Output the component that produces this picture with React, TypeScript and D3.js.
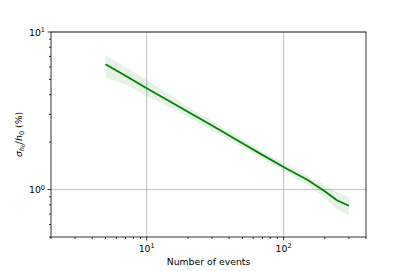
import React, { useEffect, useRef } from 'react';
import * as d3 from 'd3';

// values
const events = [5, 7, 10, 15, 20, 30, 50, 70, 100, 150, 200, 245, 300];
const relError = [6.24, 5.27, 4.40, 3.60, 3.12, 2.55, 1.97, 1.66, 1.39, 1.15, 0.975, 0.855, 0.79];
const relErrorUpper = [7.15, 6.0, 4.95, 3.95, 3.36, 2.73, 2.09, 1.76, 1.48, 1.23, 1.07, 0.96, 0.90];
const relErrorLower = [5.15, 4.62, 3.92, 3.28, 2.90, 2.38, 1.86, 1.57, 1.31, 1.07, 0.88, 0.75, 0.69];

const xMajor = [10, 100];
const xMinor = [2, 3, 4, 5, 6, 7, 8, 9, 20, 30, 40, 50, 60, 70, 80, 90, 200, 300, 400];
const yMajor = [1, 10];
const yMinor = [0.5, 0.6, 0.7, 0.8, 0.9, 2, 3, 4, 5, 6, 7, 8, 9];

const FONT = 'DejaVu Sans';

const ErrorChart = ({ width = 407, height = 271 }) => {
    const wrapper = useRef(null);

    useEffect(() => {
        document.body.style.margin = '0';
        const margin = { top: 32, bottom: 34, left: 51, right: 41 };

        const x = d3.scaleLog()
            .domain([2, 400])
            .range([margin.left, width - margin.right]);

        const y = d3.scaleLog()
            .domain([0.5, 10])
            .range([height - margin.bottom, margin.top]);

        d3.select(wrapper.current).selectAll('svg').remove();

        const svg = d3.select(wrapper.current)
            .append('svg')
            .attr('width', width)
            .attr('height', height)
            .style('display', 'block')
            .style('font-family', FONT);

        svg.append('rect')
            .attr('width', width)
            .attr('height', height)
            .attr('fill', 'white');

        const data = events.map((n, i) => ({ n, v: relError[i], lo: relErrorLower[i], hi: relErrorUpper[i] }));

        // grid
        const grid = svg.append('g').attr('stroke', '#b0b0b0').attr('stroke-width', 0.8);
        xMajor.forEach(t => {
            grid.append('line')
                .attr('x1', x(t)).attr('x2', x(t))
                .attr('y1', y.range()[0]).attr('y2', y.range()[1]);
        });
        yMajor.forEach(t => {
            grid.append('line')
                .attr('x1', x.range()[0]).attr('x2', x.range()[1])
                .attr('y1', y(t)).attr('y2', y(t));
        });

        const area = d3.area()
            .x(d => x(d.n))
            .y0(d => y(d.lo))
            .y1(d => y(d.hi));

        svg.append('path')
            .datum(data)
            .attr('fill', 'green')
            .attr('fill-opacity', 0.1)
            .attr('d', area);

        const line = d3.line()
            .x(d => x(d.n))
            .y(d => y(d.v));

        svg.append('path')
            .datum(data)
            .attr('fill', 'none')
            .attr('stroke', 'green')
            .attr('stroke-width', 1.8)
            .attr('d', line);

        // frame
        svg.append('rect')
            .attr('x', x.range()[0])
            .attr('y', y.range()[1])
            .attr('width', x.range()[1] - x.range()[0])
            .attr('height', y.range()[0] - y.range()[1])
            .attr('fill', 'none')
            .attr('stroke', 'black')
            .attr('stroke-width', 0.8);

        const ticks = svg.append('g').attr('stroke', 'black').attr('stroke-width', 0.8);
        const yb = y.range()[0];
        const xl = x.range()[0];
        xMajor.forEach(t => ticks.append('line').attr('x1', x(t)).attr('x2', x(t)).attr('y1', yb).attr('y2', yb + 3.4));
        xMinor.forEach(t => ticks.append('line').attr('x1', x(t)).attr('x2', x(t)).attr('y1', yb).attr('y2', yb + 2));
        yMajor.forEach(t => ticks.append('line').attr('y1', y(t)).attr('y2', y(t)).attr('x1', xl).attr('x2', xl - 3.4));
        yMinor.forEach(t => ticks.append('line').attr('y1', y(t)).attr('y2', y(t)).attr('x1', xl).attr('x2', xl - 2));

        const fs = 9.3;
        const powLabel = (g, t) => {
            const txt = g.append('text').attr('font-size', fs).attr('fill', 'black');
            txt.append('tspan').text('10');
            txt.append('tspan')
                .attr('font-size', fs * 0.7)
                .attr('dy', -fs * 0.38)
                .text(String(Math.round(Math.log10(t))));
            return txt;
        };

        xMajor.forEach(t => {
            powLabel(svg, t)
                .attr('x', x(t))
                .attr('y', yb + 15)
                .attr('text-anchor', 'middle');
        });
        yMajor.forEach(t => {
            powLabel(svg, t)
                .attr('x', xl - 6)
                .attr('y', y(t) + 3.6)
                .attr('text-anchor', 'end');
        });

        svg.append('text')
            .attr('x', (x.range()[0] + x.range()[1]) / 2)
            .attr('y', height - 6)
            .attr('text-anchor', 'middle')
            .attr('font-size', fs)
            .text('Number of events');

        // sigma_{h0}/h0 (%)
        const yl = svg.append('text')
            .attr('transform', `translate(22,${(y.range()[0] + y.range()[1]) / 2}) rotate(-90)`)
            .attr('text-anchor', 'middle')
            .attr('font-size', fs);
        yl.append('tspan').attr('font-style', 'italic').text('σ');
        yl.append('tspan').attr('font-style', 'italic').attr('font-size', fs * 0.7).attr('dy', 2).text('h');
        yl.append('tspan').attr('font-size', fs * 0.5).attr('dy', 1.2).text('0');
        yl.append('tspan').attr('dy', -3.2).text('/');
        yl.append('tspan').attr('font-style', 'italic').text('h');
        yl.append('tspan').attr('font-size', fs * 0.7).attr('dy', 2).text('0');
        yl.append('tspan').attr('dy', -2).text('\u00a0(%)');
    }, []);

    return <div className="error-chart" ref={wrapper}></div>;
};

export default function App() {
    return <ErrorChart />;
}
